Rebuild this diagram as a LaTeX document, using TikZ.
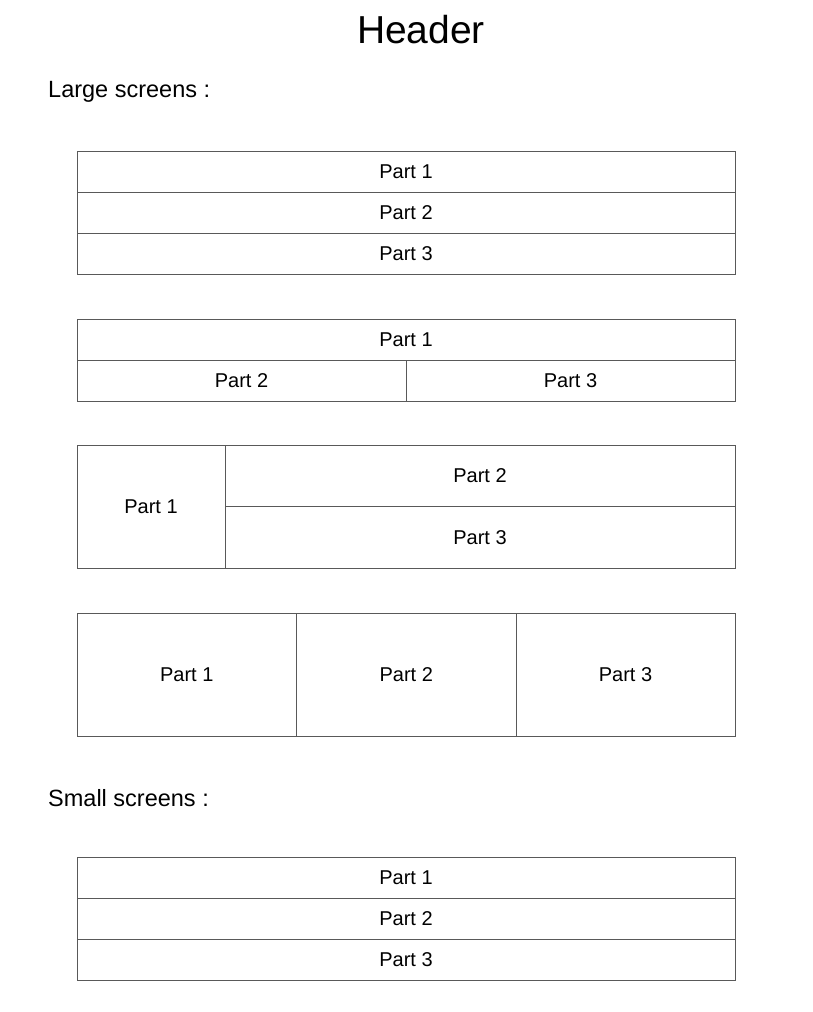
\documentclass[tikz,border=0pt]{standalone}
\usepackage{fontspec}
\setmainfont{Liberation Sans}
\begin{document}
\begin{tikzpicture}[x=1pt,y=-1pt,
  cell/.style={draw=black!65, line width=1pt, inner sep=0pt, outer sep=0pt,
    font=\fontsize{20}{24}\selectfont, text=black},
  lbl/.style={anchor=west, inner sep=0pt, font=\fontsize{23.5}{28}\selectfont},
  hdr/.style={inner sep=0pt, font=\fontsize{39}{46}\selectfont}]
\useasboundingbox[fill=white] (0,0) rectangle (812,1012);
\node[hdr] (header) at (421,30) {Header};
\node[lbl] (large) at (48,92) {Large screens :};
% block 1
\node[cell, minimum width=658pt, minimum height=41pt] (a1) at (406,171.5) {Part 1};
\node[cell, minimum width=658pt, minimum height=41pt] (a2) at (406,212.5) {Part 2};
\node[cell, minimum width=658pt, minimum height=41pt] (a3) at (406,253.5) {Part 3};
% block 2
\node[cell, minimum width=658pt, minimum height=41pt] (b1) at (406,339.5) {Part 1};
\node[cell, minimum width=329pt, minimum height=41pt] (b2) at (241.5,380.5) {Part 2};
\node[cell, minimum width=329pt, minimum height=41pt] (b3) at (570.5,380.5) {Part 3};
% block 3
\node[cell, minimum width=148pt, minimum height=123pt] (c1) at (151,506.5) {Part 1};
\node[cell, minimum width=510pt, minimum height=61.5pt] (c2) at (480,475.75) {Part 2};
\node[cell, minimum width=510pt, minimum height=61.5pt] (c3) at (480,537.25) {Part 3};
% block 4
\node[cell, minimum width=219.5pt, minimum height=123pt] (d1) at (186.75,674.5) {Part 1};
\node[cell, minimum width=219.5pt, minimum height=123pt] (d2) at (406.25,674.5) {Part 2};
\node[cell, minimum width=219pt, minimum height=123pt] (d3) at (625.5,674.5) {Part 3};
\node[lbl] (small) at (48,798) {Small screens :};
% block 5
\node[cell, minimum width=658pt, minimum height=41pt] (e1) at (406,877.5) {Part 1};
\node[cell, minimum width=658pt, minimum height=41pt] (e2) at (406,918.5) {Part 2};
\node[cell, minimum width=658pt, minimum height=41pt] (e3) at (406,959.5) {Part 3};
\end{tikzpicture}
\end{document}
